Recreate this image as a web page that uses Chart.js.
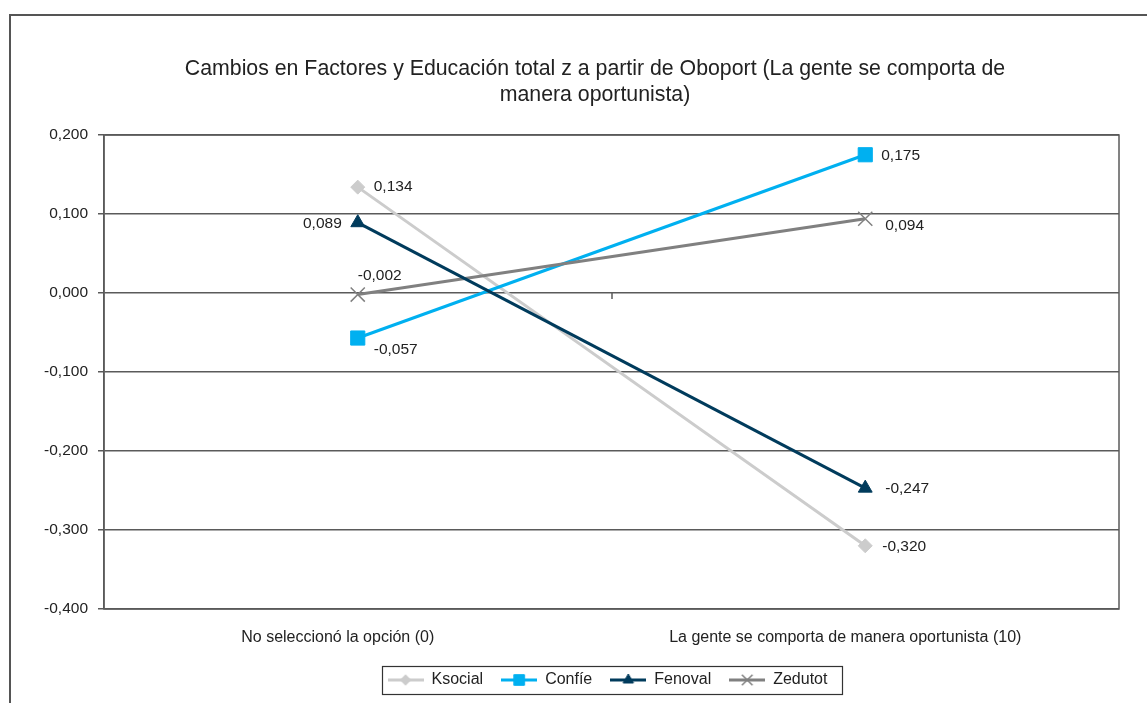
<!DOCTYPE html>
<html>
<head>
<meta charset="utf-8">
<script src="https://cdn.jsdelivr.net/npm/chart.js@4/dist/chart.umd.min.js"></script>
<style>
html, body { margin: 0; padding: 0; background: #fff; overflow: hidden; }
#frame { position: absolute; left: 9px; top: 14px; width: 1200px; height: 800px; border: 2px solid #555; }
#wrap { position: absolute; left: 0; top: 0; width: 1147px; height: 703px; }
</style>
</head>
<body>
<div id="frame"></div>
<div id="wrap"><canvas id="grafico"></canvas></div>
<script>
// datos
const categories = ["No seleccionó la opción (0)", "La gente se comporta de manera oportunista (10)"];
const seriesNames = ["Ksocial", "Confíe", "Fenoval", "Zedutot"];
const ksocial = [0.134, -0.320];
const confie = [-0.057, 0.175];
const fenoval = [0.089, -0.247];
const zedutot = [-0.002, 0.094];
const yMin = -0.4;
const yMax = 0.2;
const yStep = 0.1;

const colors = ["#cccccc", "#00b0f0", "#003b5c", "#808080"];
const styles = ["rectRot", "rect", "triangle", "crossRot"];
const radii = [7, 10, 8, 10];
const fontFam = "'Liberation Sans', Arial, sans-serif";

// posición de las etiquetas de datos [dx, dy, align]
const labelPos = [
    [[16, 0, "left"], [17, 1, "left"]],
    [[16, 12, "left"], [16, 1, "left"]],
    [[-16, 1, "right"], [20, 1, "left"]],
    [[0, -19, "left"], [20, 7, "left"]]
];

function fmt(v) {
    return v.toFixed(3).replace(".", ",");
}

// icono de leyenda: línea con marcador
function legendIcon(i) {
    const c = document.createElement("canvas");
    c.width = 36;
    c.height = 16;
    const ctx = c.getContext("2d");
    ctx.strokeStyle = colors[i];
    ctx.lineWidth = 3;
    ctx.beginPath();
    ctx.moveTo(0, 8);
    ctx.lineTo(36, 8);
    ctx.stroke();
    ctx.fillStyle = colors[i];
    ctx.lineWidth = i === 3 ? 1.5 : 1;
    Chart.helpers.drawPoint(ctx, { pointStyle: styles[i], radius: radii[i] * 0.75, rotation: 0, borderWidth: 1 }, 18, 8);
    return c;
}

const serieData = [ksocial, confie, fenoval, zedutot];

const labelsPlugin = {
    id: "etiquetas",
    afterLayout(chart) {
        // título y leyenda no van centrados en el lienzo
        if (chart.titleBlock) {
            chart.titleBlock.left += 20.5;
            chart.titleBlock.right += 20.5;
        }
        if (chart.legend) {
            chart.legend.left += 33;
            chart.legend.right += 33;
        }
    },
    afterDatasetsDraw(chart) {
        const ctx = chart.ctx;
        ctx.save();
        ctx.font = "15.5px " + fontFam;
        ctx.fillStyle = "#222";
        ctx.textBaseline = "middle";
        chart.data.datasets.forEach((ds, i) => {
            const meta = chart.getDatasetMeta(i);
            meta.data.forEach((pt, j) => {
                const p = labelPos[i][j];
                ctx.textAlign = p[2];
                ctx.fillText(fmt(ds.data[j]), pt.x + p[0], pt.y + p[1]);
            });
        });
        ctx.restore();
    }
};

const framePlugin = {
    id: "marco",
    afterDraw(chart) {
        const ctx = chart.ctx;
        const a = chart.chartArea;
        ctx.save();
        ctx.strokeStyle = "#5a5a5a";
        ctx.lineWidth = 1.5;
        ctx.strokeRect(a.left, a.top, a.right - a.left, a.bottom - a.top);
        // marca entre categorías sobre el eje cero
        const y0 = chart.scales.y.getPixelForValue(0);
        const xm = (chart.scales.x.getPixelForValue(0) + chart.scales.x.getPixelForValue(1)) / 2;
        ctx.beginPath();
        ctx.moveTo(Math.round(xm), y0);
        ctx.lineTo(Math.round(xm), y0 + 6);
        ctx.stroke();
        // caja de la leyenda
        const boxes = chart.legend.legendHitBoxes;
        if (boxes && boxes.length) {
            let l = Infinity, r = -Infinity, t = Infinity, b = -Infinity;
            boxes.forEach(h => {
                l = Math.min(l, h.left);
                r = Math.max(r, h.left + h.width);
                t = Math.min(t, h.top);
                b = Math.max(b, h.top + h.height);
            });
            ctx.strokeStyle = "#333";
            ctx.lineWidth = 1.2;
            ctx.strokeRect(Math.round(l - 6) + 0.5, Math.round(t - 6) + 0.5, Math.round(r - l + 20), Math.round(b - t + 12));
        }
        ctx.restore();
    }
};

const ctx = document.getElementById("grafico").getContext("2d");
new Chart(ctx, {
    type: "line",
    data: {
        labels: categories,
        datasets: seriesNames.map((name, i) => ({
            label: name,
            data: serieData[i],
            borderColor: colors[i],
            backgroundColor: colors[i],
            borderWidth: 3,
            pointStyle: styles[i],
            pointRadius: radii[i],
            pointBorderWidth: i === 3 ? 1.5 : 1,
            pointBorderColor: colors[i],
            pointBackgroundColor: colors[i],
            tension: 0,
            fill: false,
            order: [3, 2, 0, 1][i]
        }))
    },
    options: {
        responsive: true,
        maintainAspectRatio: false,
        animation: false,
        layout: {
            padding: { top: 56, left: 30, right: 28, bottom: 5 }
        },
        plugins: {
            title: {
                display: true,
                text: ["Cambios en Factores y Educación total z a partir de Oboport (La gente se comporta de", "manera oportunista)"],
                color: "#222",
                font: { family: fontFam, size: 21.3, weight: "normal", lineHeight: 26 / 21.3 },
                padding: { top: 0, bottom: 27 }
            },
            legend: {
                display: true,
                position: "bottom",
                labels: {
                    usePointStyle: true,
                    pointStyleWidth: 36,
                    color: "#222",
                    font: { family: fontFam, size: 16 },
                    padding: 18,
                    generateLabels(chart) {
                        return chart.data.datasets.map((ds, i) => ({
                            text: ds.label,
                            fillStyle: colors[i],
                            strokeStyle: colors[i],
                            pointStyle: legendIcon(i),
                            fontColor: "#222",
                            datasetIndex: i
                        }));
                    }
                }
            },
            tooltip: { enabled: false }
        },
        scales: {
            x: {
                offset: true,
                afterFit(scale) { scale.height = 45; },
                grid: { display: false, drawTicks: false },
                border: { display: false },
                ticks: {
                    color: "#222",
                    padding: 19,
                    labelOffset: -20,
                    font: { family: fontFam, size: 16 }
                }
            },
            y: {
                min: yMin,
                max: yMax,
                afterFit(scale) { scale.width = 74; },
                grid: { color: "#5a5a5a", lineWidth: 1.5, tickLength: 6, drawTicks: true },
                border: { color: "#5a5a5a", width: 1.5 },
                ticks: {
                    stepSize: yStep,
                    color: "#222",
                    padding: 10,
                    font: { family: fontFam, size: 15.5 },
                    callback: v => fmt(v)
                }
            }
        }
    },
    plugins: [labelsPlugin, framePlugin]
});
</script>
</body>
</html>
